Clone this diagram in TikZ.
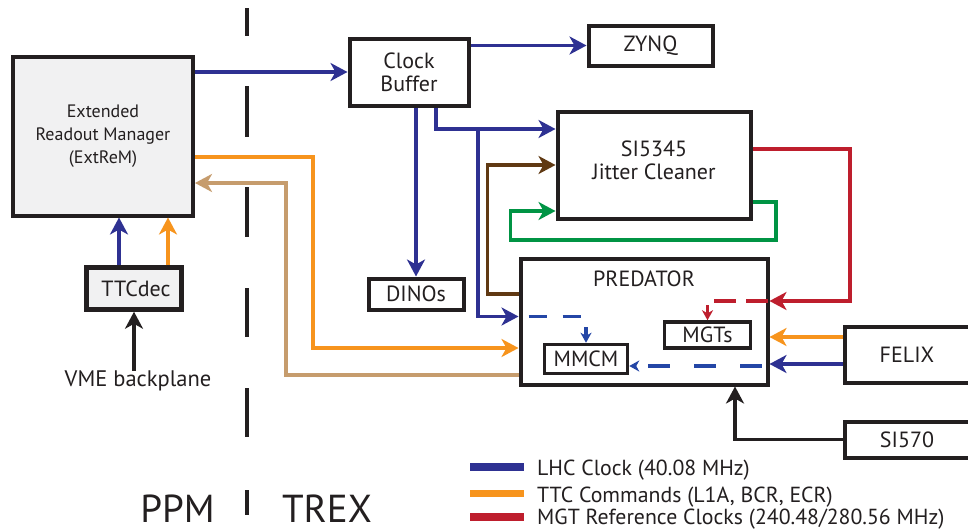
\documentclass[tikz,border=0pt]{standalone}
\usepackage{fontspec}
\setmainfont{PT Sans}
\usetikzlibrary{arrows.meta,calc}
\definecolor{cblue}{HTML}{2E3192}
\definecolor{cdblue}{HTML}{2446A6}
\definecolor{corange}{HTML}{F7941D}
\definecolor{cred}{HTML}{BE1E2D}
\definecolor{cbrown}{HTML}{603913}
\definecolor{cgreen}{HTML}{009444}
\definecolor{ctan}{HTML}{C69C6D}
\definecolor{cblack}{HTML}{231F20}
\definecolor{cgray}{HTML}{F1F1F2}
\begin{document}
\begin{tikzpicture}[x=1pt,y=-1pt,
  box/.style={draw=cblack, line width=4pt, inner sep=0pt, fill=white, text=cblack,
    font=\fontsize{22}{23}\selectfont, align=center},
  lbl/.style={text=cblack, inner sep=0pt, font=\fontsize{22}{23}\selectfont, align=center},
  conn/.style={line width=3.5pt, -{Stealth[length=17pt,width=18pt,inset=5pt]}},
  sconn/.style={line width=3.5pt, -{Stealth[length=10pt,width=11pt,inset=3pt]}},
  divider/.style={draw=cblack, line width=4pt},
  legtext/.style={anchor=base west, inner sep=0pt, text=cblack, font=\fontsize{21.8}{23}\selectfont},
  region/.style={anchor=base, inner sep=0pt, text depth=0pt, text=cblack, font=\fontsize{39}{39}\selectfont}
]
\clip (0,0) rectangle (968,530);
\fill[white] (0,0) rectangle (968,530);

% divider
\foreach \a/\b in {8/36, 86/137, 187/237, 288/337, 388/437, 490/515}
  \draw[divider] (247,\a) -- (247,\b);

% boxes
\node[box, fill=cgray, minimum width=180pt, minimum height=159pt, font=\fontsize{18}{23}\selectfont] (extrem) at (103,136) {Extended\\Readout Manager\\(ExtReM)};
\node[box, fill=cgray, minimum width=95pt, minimum height=42pt, line width=4.5pt] (ttcdec) at (134,288.5) {\hspace*{4pt}TTCdec};
\node[lbl, font=\fontsize{22.5}{23}\selectfont] (vme) at (138,381) {VME backplane};
\node[box, minimum width=119pt, minimum height=67pt] (clockbuf) at (409,72) {Clock\\Buffer};
\node[box, minimum width=124pt, minimum height=40pt] (zynq) at (650.5,45.5) {ZYNQ};
\node[box, minimum width=95pt, minimum height=31pt] (dinos) at (416,294) {DINOs};
\node[box, minimum width=193pt, minimum height=107pt] (si5345) at (654,165) {};
\node[lbl] (si5345t) at (654,160) {SI5345\\Jitter Cleaner};
\node[box, minimum width=247pt, minimum height=126pt] (predator) at (644,321.5) {};
\node[lbl] (predt) at (644,279) {PREDATOR};
\node[box, minimum width=86pt, minimum height=26pt, line width=3.5pt] (mgts) at (707.5,335) {MGTs};
\node[box, minimum width=83pt, minimum height=29pt, line width=3.5pt] (mmcm) at (586,359) {MMCM};
\node[box, minimum width=125pt, minimum height=56pt] (felix) at (907,354.5) {FELIX};
\node[box, minimum width=125pt, minimum height=36pt] (si570) at (907,439.5) {SI570};

% bend points
\coordinate (g1) at (776,240);
\coordinate (r1) at (850,301);
\coordinate (o1) at (313,348);
\coordinate (br) at (478,129);

% blue LHC clock
\draw[conn, cblue] (extrem.east |- clockbuf.west) -- (clockbuf.west);
\draw[conn, cblue] (clockbuf.east |- zynq.west) -- (zynq.west);
\draw[conn, cblue] (dinos.north |- clockbuf.south) -- (dinos.north);
\draw[conn, cblue] ([xshift=27pt]clockbuf.south) |- ([yshift=36pt]si5345.west);
\draw[conn, cblue] (br) |- ([yshift=5pt]predator.west);
\draw[conn, cblue] ([xshift=-15pt]ttcdec.north) -- ([xshift=-15pt]ttcdec.north |- extrem.south);
\draw[conn, cblue] ([yshift=-9.5pt]felix.west) coordinate (fb) -- (fb -| predator.east);

% orange TTC
\draw[conn, corange] ([xshift=34pt]ttcdec.north) -- ([xshift=34pt]ttcdec.north |- extrem.south);
\draw[conn, corange] ([yshift=-21pt]extrem.east) -| (o1) -- (o1 -| predator.west);
\draw[conn, corange] ([yshift=17.5pt]felix.west) coordinate (fo) -- (fo -| predator.east);

% tan
\draw[conn, ctan] ([yshift=-53.5pt]predator.west) -| ([xshift=91pt,yshift=-47pt]extrem.east) -- ([yshift=-47pt]extrem.east);

% brown
\draw[conn, cbrown] ([yshift=27.5pt]predator.west) -| ([xshift=-68pt]si5345.west) -- (si5345.west);

% green
\draw[conn, cgreen] ([yshift=-37pt]si5345.east) -| (g1) -| ([xshift=-45pt,yshift=-46pt]si5345.west) -- ([yshift=-46pt]si5345.west);

% red
\draw[conn, cred] ([yshift=16pt]si5345.east) -| (r1) -- (r1 -| predator.east);
\draw[sconn, cred, dash pattern=on 22pt off 10pt] ([yshift=20.5pt,xshift=-2pt]predator.east) -| (mgts.north);

% dashed blue inside PREDATOR
\draw[sconn, cdblue, dash pattern=on 18pt off 16pt] ([yshift=5pt,xshift=10pt]predator.west) -| (mmcm.north);
\draw[sconn, cdblue, dash pattern=on 22pt off 24pt] ([yshift=-44.5pt,xshift=-8pt]predator.east) coordinate (pe) -- (pe -| mmcm.east);

% black
\draw[conn, cblack] (vme.north -| ttcdec.south) -- (ttcdec.south);
\draw[conn, cblack] (si570.west) -| ([xshift=91pt]predator.south);

% legend
\fill[cblue] (470,463) rectangle (524,471);
\fill[corange] (470,490) rectangle (524,497);
\fill[cred] (470,513) rectangle (524,521);
\node[legtext] (leg1) at (537,475) {LHC Clock (40.08 MHz)};
\node[legtext] (leg2) at (537,502) {TTC Commands (L1A, BCR, ECR)};
\node[legtext] (leg3) at (537,524) {MGT Reference Clocks (240.48/280.56 MHz)};

% region labels
\node[region] (ppm) at (177.5,522) {PPM};
\node[region] (trex) at (327,522) {TREX};
\end{tikzpicture}
\end{document}
